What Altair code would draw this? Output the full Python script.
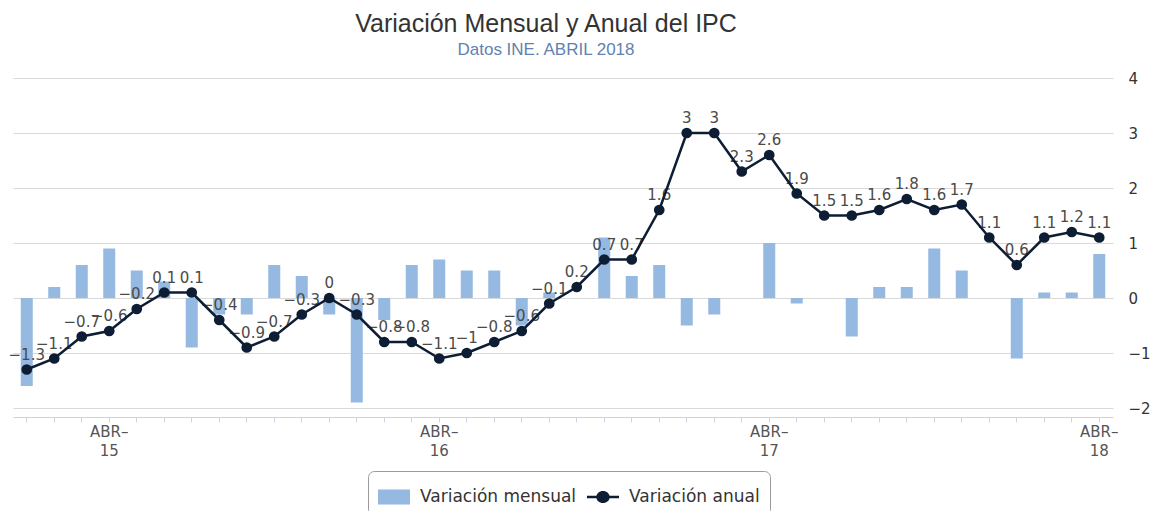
import altair as alt
import pandas as pd

meses = ["ENE", "FEB", "MAR", "ABR", "MAY", "JUN", "JUL", "AGO", "SEP", "OCT", "NOV", "DIC"]
anios = ["15", "16", "17", "18"]
periodos = [f"{m}-{a}" for a in anios for m in meses][:40]

mensual = [-1.6, 0.2, 0.6, 0.9, 0.5, 0.3, -0.9, -0.3, -0.3, 0.6, 0.4, -0.3,
           -1.9, -0.4, 0.6, 0.7, 0.5, 0.5, -0.5, 0.1, 0.0, 1.1, 0.4, 0.6,
           -0.5, -0.3, 0.0, 1.0, -0.1, 0.0, -0.7, 0.2, 0.2, 0.9, 0.5, 0.0,
           -1.1, 0.1, 0.1, 0.8]
anual = [-1.3, -1.1, -0.7, -0.6, -0.2, 0.1, 0.1, -0.4, -0.9, -0.7, -0.3, 0.0,
         -0.3, -0.8, -0.8, -1.1, -1.0, -0.8, -0.6, -0.1, 0.2, 0.7, 0.7, 1.6,
         3.0, 3.0, 2.3, 2.6, 1.9, 1.5, 1.5, 1.6, 1.8, 1.6, 1.7, 1.1,
         0.6, 1.1, 1.2, 1.1]
series = ["Variación mensual", "Variación anual"]
y_ticks = [-2, -1, 0, 1, 2, 3, 4]

df = pd.DataFrame({"periodo": periodos, "mensual": mensual, "anual": anual})

BAR = "#95b9e1"
LINE = "#0d1d33"
RECT_PATH = "M-1,-0.47H1V0.47H-1Z"
LINEDOT_PATH = "M-1,-0.08H1V0.08H-1Z M0.42,0 A0.42,0.38 0 1,1 -0.42,0 A0.42,0.38 0 1,1 0.42,0 Z"

xscale = alt.Scale(paddingInner=0, paddingOuter=0)

axis_mes = alt.Axis(
    title=None,
    labelExpr="slice(datum.value, 0, 3) == 'ABR' ? 'ABR\u2013' : ''",
    offset=9,
    domainColor="#c7d5e8",
    tickColor="#c7d5e8",
    tickSize=5,
    labelAngle=0,
    labelFont="DejaVu Sans",
    labelFontSize=15,
    labelColor="#555555",
    labelPadding=2,
    labelOverlap=False,
    grid=False,
)
axis_anio = alt.Axis(
    title=None,
    orient="bottom",
    labelExpr="slice(datum.value, 0, 3) == 'ABR' ? slice(datum.value, 4) : ''",
    offset=35,
    domain=False,
    ticks=False,
    labelAngle=0,
    labelFont="DejaVu Sans",
    labelFontSize=15,
    labelColor="#555555",
    labelPadding=0,
    labelOverlap=False,
    grid=False,
)

x_mes = alt.X("periodo:O", sort=periodos, scale=xscale, axis=axis_mes)
x_anio = alt.X("periodo:O", sort=periodos, scale=xscale, axis=axis_anio)
x_none = alt.X("periodo:O", sort=periodos, scale=xscale, axis=None)

yscale = alt.Scale(domain=[-2, 4], nice=False)
yaxis = alt.Axis(
    title=None,
    orient="right",
    values=y_ticks,
    format="~g",
    domain=False,
    ticks=False,
    labelPadding=15,
    labelAlign="left",
    labelFont="DejaVu Sans",
    labelFontSize=15,
    labelColor="#333333",
    gridColor="#d9d9d9",
    gridWidth=1,
)

color_scale = alt.Scale(domain=series, range=[BAR, LINE])
shape_scale = alt.Scale(domain=series, range=[RECT_PATH, LINEDOT_PATH])
legend = alt.Legend(
    title=None,
    orient="none",
    legendX=355,
    legendY=393,
    direction="horizontal",
    labelFont="DejaVu Sans",
    labelFontSize=17,
    labelColor="#333333",
    symbolSize=1024,
    symbolStrokeWidth=0,
    symbolOpacity=1,
    labelOffset=10,
    columnPadding=10,
    padding=10,
    strokeColor="#9a9a9a",
    cornerRadius=6,
    fillColor="white",
)

base = alt.Chart(df)

bars = base.transform_calculate(serie="'Variación mensual'").mark_bar(size=12).encode(
    x=x_mes,
    y=alt.Y("mensual:Q", scale=yscale, axis=yaxis),
    color=alt.Color("serie:N", scale=color_scale, legend=legend),
)

labels = base.mark_text(dy=-15, fontSize=15, font="DejaVu Sans", color="#4a4a4a").encode(
    x=x_none,
    y=alt.Y("anual:Q", scale=yscale),
    text=alt.Text("anual:Q", format="~g"),
)

line = base.mark_line(strokeWidth=2.5, color=LINE).encode(
    x=x_anio,
    y=alt.Y("anual:Q", scale=yscale),
)

# layer that only feeds the legend symbol (tiny, hidden under the dots)
legend_points = base.transform_calculate(serie="'Variación anual'").mark_point(
    filled=True, size=1, opacity=1
).encode(
    x=x_none,
    y=alt.Y("anual:Q", scale=yscale),
    color=alt.Color("serie:N", scale=color_scale, legend=legend),
    shape=alt.Shape("serie:N", scale=shape_scale, legend=legend),
)

points = base.mark_point(filled=True, size=115, opacity=1, color=LINE, shape="circle").encode(
    x=x_none,
    y=alt.Y("anual:Q", scale=yscale),
)

chart = (
    alt.layer(bars, labels, line, legend_points, points)
    .resolve_axis(x="independent")
    .properties(
        width=1100,
        height=330,
        padding={"left": 0, "top": 4, "right": 0, "bottom": 0},
        title=alt.Title(
            text="Variación Mensual y Anual del IPC",
            subtitle="Datos INE. ABRIL 2018",
            font="Liberation Sans",
            fontSize=25,
            fontWeight="normal",
            color="#333333",
            subtitleFont="Liberation Sans",
            subtitleFontSize=17,
            subtitleColor="#5f82b0",
            subtitlePadding=5,
            offset=13,
            anchor="middle",
            dx=-17,
        ),
    )
    .configure_view(strokeWidth=0)
)

chart.save("out.html", embed_options={"renderer": "svg", "actions": False})
